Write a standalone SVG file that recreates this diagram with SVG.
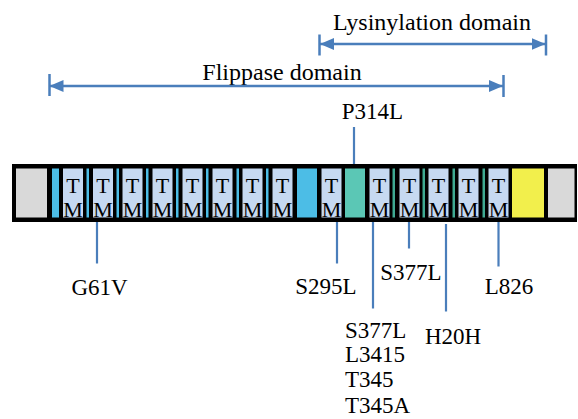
<svg xmlns="http://www.w3.org/2000/svg" width="578" height="419" viewBox="0 0 578 419">
<style>
text{font-family:"Liberation Serif","Times New Roman",serif;fill:#000}
.dom{font-size:24px;text-anchor:middle}
.lbl{font-size:23px}
.c{text-anchor:middle}
.tm{fill:#c6d9f1}
.tmt{font-size:22px;text-anchor:middle}
.con{stroke:#4a7ebb;stroke-width:2.2;fill:none}
.arr{stroke:#4a7ebb;stroke-width:2.5;fill:none}
.blue{fill:#4cbde6}
.teal{fill:#5bc7b5}
.tstrip{fill:#3faa92}
</style>
<defs>
<marker id="ah" viewBox="0 0 14 12" refX="14" refY="6" markerWidth="14" markerHeight="12" markerUnits="userSpaceOnUse" orient="auto-start-reverse">
<path d="M0,0 L14,6 L0,12 z" fill="#4a7ebb"/>
</marker>
</defs>

<g id="lysinylation-domain">
<text class="dom" x="432" y="30">Lysinylation domain</text>
<line class="arr" x1="320" y1="44" x2="545.5" y2="44" marker-start="url(#ah)" marker-end="url(#ah)"/>
<line class="arr" x1="319.5" y1="34.5" x2="319.5" y2="55.5"/>
<line class="arr" x1="546" y1="34.5" x2="546" y2="55.5"/>
</g>

<g id="flippase-domain">
<text class="dom" x="282" y="79.5">Flippase domain</text>
<line class="arr" x1="49.5" y1="86" x2="503" y2="86" marker-start="url(#ah)" marker-end="url(#ah)"/>
<line class="arr" x1="49.5" y1="74" x2="49.5" y2="96"/>
<line class="arr" x1="503.5" y1="75" x2="503.5" y2="97"/>
</g>

<g id="protein">
<rect x="12" y="164" width="565" height="58" fill="#000"/>
<rect x="16" y="168.5" width="31" height="49" fill="#d9d9d9"/>
<rect class="blue" x="52" y="168.5" width="7" height="49"/>
<rect class="blue" x="86.5" y="168.5" width="2.5" height="49"/>
<rect class="blue" x="116.5" y="168.5" width="2.5" height="49"/>
<rect class="blue" x="146" y="168.5" width="2.5" height="49"/>
<rect class="blue" x="176" y="168.5" width="2.5" height="49"/>
<rect class="blue" x="206" y="168.5" width="2.5" height="49"/>
<rect class="blue" x="236.5" y="168.5" width="2.5" height="49"/>
<rect class="blue" x="266" y="168.5" width="2.5" height="49"/>
<rect class="blue" x="297" y="168.5" width="20" height="49"/>
<rect class="teal" x="345" y="168.5" width="20" height="49"/>
<rect class="tstrip" x="392.5" y="168.5" width="2.5" height="49"/>
<rect class="tstrip" x="422.5" y="168.5" width="2.5" height="49"/>
<rect class="tstrip" x="452.5" y="168.5" width="2.5" height="49"/>
<rect class="tstrip" x="482.5" y="168.5" width="2.5" height="49"/>
<rect x="512" y="168.5" width="32" height="49" fill="#f2ef4c"/>
<rect x="548" y="168.5" width="26.5" height="49" fill="#d9d9d9"/>

<g id="tm1"><rect class="tm" x="63" y="168.5" width="20" height="49"/><text class="tmt" x="73" y="193">T</text><text class="tmt" x="73" y="216.5">M</text></g>
<g id="tm2"><rect class="tm" x="93" y="168.5" width="20" height="49"/><text class="tmt" x="103" y="193">T</text><text class="tmt" x="103" y="216.5">M</text></g>
<g id="tm3"><rect class="tm" x="122.5" y="168.5" width="20" height="49"/><text class="tmt" x="132.5" y="193">T</text><text class="tmt" x="132.5" y="216.5">M</text></g>
<g id="tm4"><rect class="tm" x="152.5" y="168.5" width="20" height="49"/><text class="tmt" x="162.5" y="193">T</text><text class="tmt" x="162.5" y="216.5">M</text></g>
<g id="tm5"><rect class="tm" x="182.5" y="168.5" width="20" height="49"/><text class="tmt" x="192.5" y="193">T</text><text class="tmt" x="192.5" y="216.5">M</text></g>
<g id="tm6"><rect class="tm" x="212.5" y="168.5" width="20" height="49"/><text class="tmt" x="222.5" y="193">T</text><text class="tmt" x="222.5" y="216.5">M</text></g>
<g id="tm7"><rect class="tm" x="242.5" y="168.5" width="20" height="49"/><text class="tmt" x="252.5" y="193">T</text><text class="tmt" x="252.5" y="216.5">M</text></g>
<g id="tm8"><rect class="tm" x="272.5" y="168.5" width="20" height="49"/><text class="tmt" x="282.5" y="193">T</text><text class="tmt" x="282.5" y="216.5">M</text></g>
<g id="tm9"><rect class="tm" x="321.5" y="168.5" width="20" height="49"/><text class="tmt" x="331.5" y="193">T</text><text class="tmt" x="331.5" y="216.5">M</text></g>
<g id="tm10"><rect class="tm" x="369.5" y="168.5" width="20" height="49"/><text class="tmt" x="379.5" y="193">T</text><text class="tmt" x="379.5" y="216.5">M</text></g>
<g id="tm11"><rect class="tm" x="399.5" y="168.5" width="20" height="49"/><text class="tmt" x="409.5" y="193">T</text><text class="tmt" x="409.5" y="216.5">M</text></g>
<g id="tm12"><rect class="tm" x="428.5" y="168.5" width="20" height="49"/><text class="tmt" x="438.5" y="193">T</text><text class="tmt" x="438.5" y="216.5">M</text></g>
<g id="tm13"><rect class="tm" x="458.5" y="168.5" width="20" height="49"/><text class="tmt" x="468.5" y="193">T</text><text class="tmt" x="468.5" y="216.5">M</text></g>
<g id="tm14"><rect class="tm" x="488.5" y="168.5" width="20" height="49"/><text class="tmt" x="498.5" y="193">T</text><text class="tmt" x="498.5" y="216.5">M</text></g>
</g>

<g id="connectors">
<line class="con" x1="354" y1="127" x2="354" y2="164"/>
<line class="con" x1="97" y1="222" x2="97" y2="263.5"/>
<line class="con" x1="337" y1="222" x2="337" y2="263.5"/>
<line class="con" x1="373" y1="222" x2="373" y2="308.5"/>
<line class="con" x1="409" y1="222" x2="409" y2="248.5"/>
<line class="con" x1="446" y1="224" x2="446" y2="311.5"/>
<line class="con" x1="498.5" y1="222" x2="498.5" y2="266.5"/>
</g>

<g id="m-p314l"><text class="lbl c" x="372.5" y="119">P314L</text></g>
<g id="m-g61v"><text class="lbl c" x="99.5" y="294.5">G61V</text></g>
<g id="m-s295l"><text class="lbl c" x="326" y="294">S295L</text></g>
<g id="m-s377l"><text class="lbl c" x="411" y="280">S377L</text></g>
<g id="m-l826"><text class="lbl c" x="509" y="293.5">L826</text></g>
<g id="m-h20h"><text class="lbl c" x="453" y="343.5">H20H</text></g>
<g id="m-stack">
<text class="lbl" x="345" y="337.5">S377L</text>
<text class="lbl" x="345" y="362">L3415</text>
<text class="lbl" x="345" y="387">T345</text>
<text class="lbl" x="345" y="412.5">T345A</text>
</g>
</svg>
